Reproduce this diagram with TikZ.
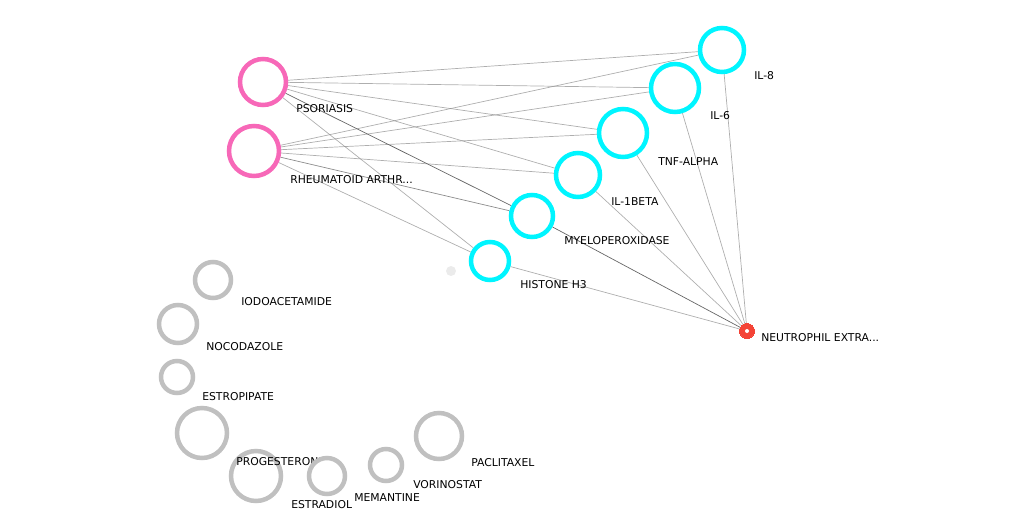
\documentclass[tikz,border=0pt]{standalone}
\usepackage{fontspec}
\setmainfont{DejaVu Sans}
\usepackage{tikz}
\usetikzlibrary{positioning}
\pgfdeclarelayer{bg}
\pgfsetlayers{bg,main}
\definecolor{cyanring}{HTML}{00F5FF}
\definecolor{pinkring}{HTML}{F768B8}
\definecolor{greyring}{HTML}{C0C0C0}
\definecolor{redhub}{HTML}{F44336}
\begin{document}
\begin{tikzpicture}[x=1pt, y=-1pt,
  every node/.style={circle, fill=white, inner sep=0pt, line width=4.5pt},
  gene/.style={draw=cyanring},
  disease/.style={draw=pinkring},
  drug/.style={draw=greyring},
  lbl/.style={rectangle, fill=none, anchor=west, font=\fontsize{10.8}{12}\selectfont},
  edge/.style={draw=black!45, line width=0.7pt}]
\useasboundingbox (0,0) rectangle (1024,512);
% genes
\node[gene, minimum size=44pt] (il8) at (722,50) {};
\node[gene, minimum size=48pt] (il6) at (675,88) {};
\node[gene, minimum size=48pt] (tnf) at (623,133) {};
\node[gene, minimum size=44pt] (il1b) at (578,175) {};
\node[gene, minimum size=42pt] (mpo) at (532,216) {};
\node[gene, minimum size=38pt] (h3) at (490,261) {};
\node[fill=black!8, minimum size=10pt] (dot) at (451,271) {};
% diseases
\node[disease, minimum size=46pt] (pso) at (263,82) {};
\node[disease, minimum size=50pt] (ra) at (254,151) {};
\node[fill=redhub, draw=redhub, line width=0pt, minimum size=15pt] (net) at (747,331) {};
\node[fill=white, minimum size=4pt] at (net) {};
% edges
\begin{pgfonlayer}{bg}
\foreach \src in {pso, ra}{
  \foreach \dst in {il8, il6, tnf, il1b, h3}
    {\draw[edge, draw opacity=0.7] (\src) -- (\dst);}
}
\draw[edge, draw=black!60] (pso) -- (mpo);
\draw[edge] (ra) -- (mpo);
\foreach \dst in {il8, il6, tnf, il1b, h3}
  {\draw[edge, draw opacity=0.7] (net) -- (\dst);}
\draw[edge, draw=black!60] (net) -- (mpo);
\end{pgfonlayer}
% drugs
\node[drug, minimum size=36pt] (iodo) at (213,280) {};
\node[drug, minimum size=38pt] (noco) at (178,324) {};
\node[drug, minimum size=32pt] (estro) at (177,377) {};
\node[drug, minimum size=50pt] (prog) at (202,433) {};
\node[drug, minimum size=50pt] (estra) at (256,476) {};
% labels
\node[lbl] at (752,76) {IL-8};
\node[lbl] at (708,116) {IL-6};
\node[lbl] at (656,162) {TNF-ALPHA};
\node[lbl] at (609,202) {IL-1BETA};
\node[lbl] at (562,241) {MYELOPEROXIDASE};
\node[lbl] at (518,285) {HISTONE H3};
\node[lbl] at (294,109) {PSORIASIS};
\node[lbl] at (288,180) {RHEUMATOID ARTHR...};
\node[lbl] at (759,338) {NEUTROPHIL EXTRA...};
\node[lbl] at (239,302) {IODOACETAMIDE};
\node[lbl] at (204,347) {NOCODAZOLE};
\node[lbl] at (200,397) {ESTROPIPATE};
\node[lbl] at (234,462) {PROGESTERONE};
\node[lbl] at (289,505) {ESTRADIOL};
\node[lbl] at (352,498) {MEMANTINE};
\node[lbl] at (411,485) {VORINOSTAT};
\node[lbl] at (469,463) {PACLITAXEL};
\node[drug, minimum size=36pt] (mem) at (327,476) {};
\node[drug, minimum size=32pt] (vor) at (386,465) {};
\node[drug, minimum size=46pt] (pac) at (439,436) {};
\end{tikzpicture}
\end{document}
